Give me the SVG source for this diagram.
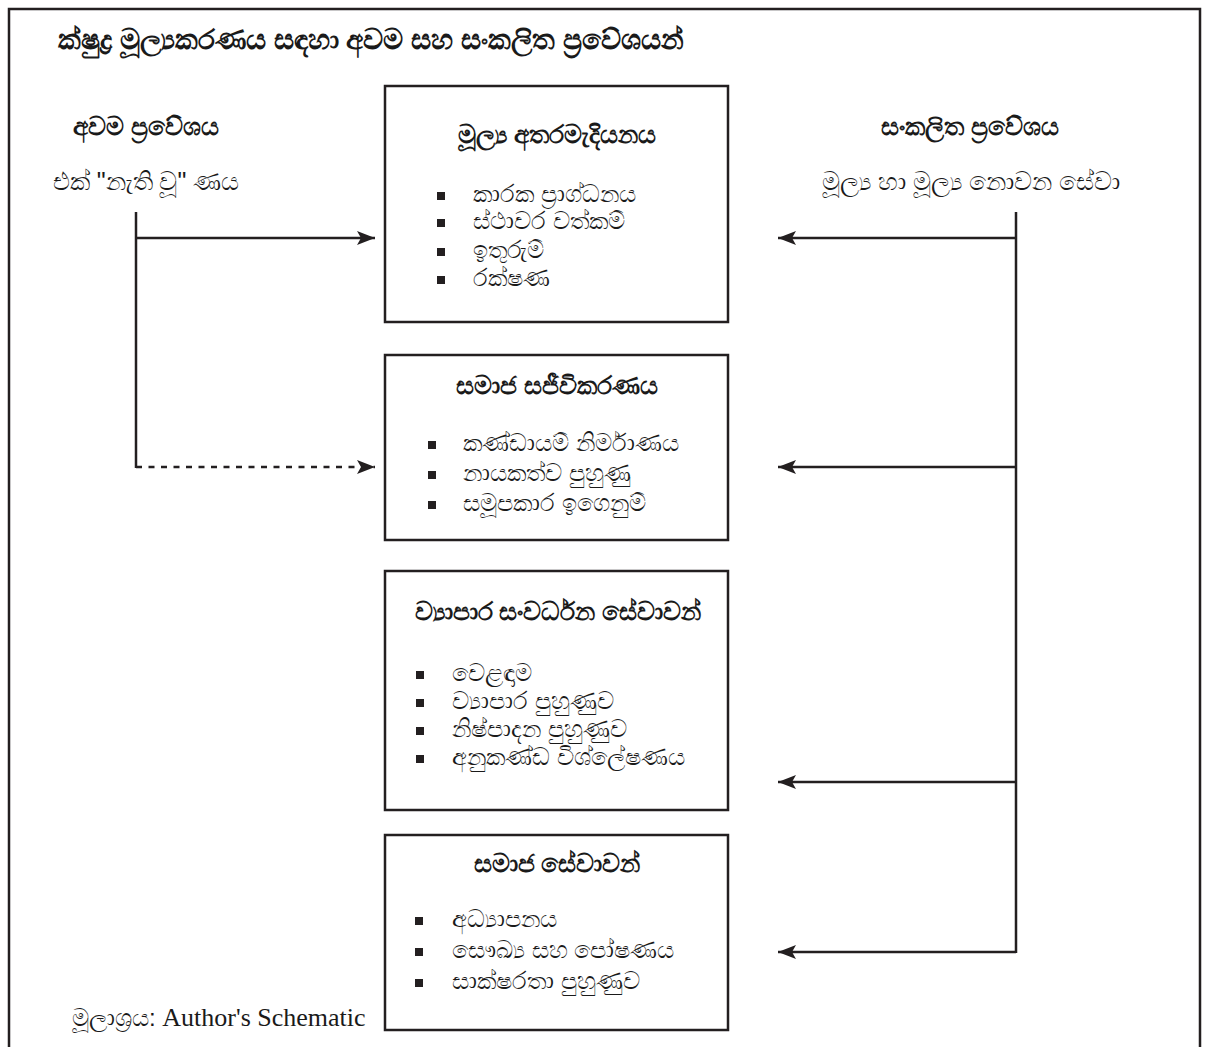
<svg xmlns="http://www.w3.org/2000/svg" width="1211" height="1047" viewBox="0 0 1211 1047">
<defs>
<style>
text{font-family:"Liberation Sans","Noto Sans",sans-serif;fill:#1a1a1a}
.t{font-size:28px;font-weight:bold}
.h{font-size:24.5px;font-weight:bold;text-anchor:middle}
.b{font-size:24px}
.sub{font-size:25px;text-anchor:middle}
.box{fill:#fff;stroke:#231f20;stroke-width:2.5}
.ln{fill:none;stroke:#231f20;stroke-width:2.5}
.bu{fill:#231f20}
</style>
<marker id="ah" viewBox="0 0 18 14" refX="18" refY="7" markerWidth="18" markerHeight="14" markerUnits="userSpaceOnUse" orient="auto">
<path d="M0,0 L18,7 L0,14 L4,7 Z" fill="#231f20"/>
</marker>
</defs>
<rect x="0" y="0" width="1211" height="1047" fill="#fff"/>
<path class="ln" d="M9,1047 V9 H1200 V1047" stroke-width="2"/>
<text class="t" x="58" y="49">ක්ෂුද්‍ර මූල්‍යකරණය සඳහා අවම සහ සංකලිත ප්‍රවේශයන්</text>
<g id="left">
<text class="h" x="146" y="135">අවම ප්‍රවේශය</text>
<text class="sub" x="146" y="190">එක් "නැති වූ" ණය</text>
</g>
<g id="right">
<text class="h" x="970" y="135">සංකලිත ප්‍රවේශය</text>
<text class="sub" x="971" y="190">මූල්‍ය හා මූල්‍ය නොවන සේවා</text>
</g>
<g id="box1">
<rect class="box" x="385" y="86" width="343" height="236"/>
<text class="h" x="557" y="143">මූල්‍ය අතරමැදියනය</text>
<rect class="bu" x="437" y="192" width="8" height="8"/>
<rect class="bu" x="437" y="219" width="8" height="8"/>
<rect class="bu" x="437" y="248" width="8" height="8"/>
<rect class="bu" x="437" y="276" width="8" height="8"/>
<text class="b" x="473" y="202">කාරක ප්‍රාග්ධනය</text>
<text class="b" x="473" y="229">ස්ථාවර වත්කම්</text>
<text class="b" x="473" y="258">ඉතුරුම්</text>
<text class="b" x="473" y="286">රක්ෂණ</text>
</g>
<g id="box2">
<rect class="box" x="385" y="355" width="343" height="185"/>
<text class="h" x="557" y="394">සමාජ සජීවිකරණය</text>
<rect class="bu" x="428" y="441" width="8" height="8"/>
<rect class="bu" x="428" y="471" width="8" height="8"/>
<rect class="bu" x="428" y="501" width="8" height="8"/>
<text class="b" x="463" y="451">කණ්ඩායම් නිර්මාණය</text>
<text class="b" x="463" y="481">නායකත්ව පුහුණු</text>
<text class="b" x="463" y="511">සමූපකාර ඉගෙනුම්</text>
</g>
<g id="box3">
<rect class="box" x="385" y="571" width="343" height="239"/>
<text class="h" x="558" y="620">ව්‍යාපාර සංවර්ධන සේවාවන්</text>
<rect class="bu" x="416" y="671" width="8" height="8"/>
<rect class="bu" x="416" y="699" width="8" height="8"/>
<rect class="bu" x="416" y="727" width="8" height="8"/>
<rect class="bu" x="416" y="755" width="8" height="8"/>
<text class="b" x="452" y="681">වෙළඳාම</text>
<text class="b" x="452" y="709">ව්‍යාපාර පුහුණුව</text>
<text class="b" x="452" y="737">නිෂ්පාදන පුහුණුව</text>
<text class="b" x="452" y="765">අනුකණ්ඩ විශ්ලේෂණය</text>
</g>
<g id="box4">
<rect class="box" x="385" y="835" width="343" height="195"/>
<text class="h" x="557" y="872">සමාජ සේවාවන්</text>
<rect class="bu" x="415" y="917" width="8" height="8"/>
<rect class="bu" x="415" y="948" width="8" height="8"/>
<rect class="bu" x="415" y="979" width="8" height="8"/>
<text class="b" x="452" y="927">අධ්‍යාපනය</text>
<text class="b" x="452" y="958">සෞඛ්‍ය සහ පෝෂණය</text>
<text class="b" x="452" y="989">සාක්ෂරතා පුහුණුව</text>
</g>
<g id="connectors">
<path class="ln" d="M136,212 V468"/>
<path class="ln" d="M136,238 H375" marker-end="url(#ah)"/>
<path class="ln" d="M136,467 H375" stroke-dasharray="6,6.5" marker-end="url(#ah)"/>
<path class="ln" d="M1016,212 V953"/>
<path class="ln" d="M1016,238 H778" marker-end="url(#ah)"/>
<path class="ln" d="M1016,467 H778" marker-end="url(#ah)"/>
<path class="ln" d="M1016,782 H778" marker-end="url(#ah)"/>
<path class="ln" d="M1016,952 H778" marker-end="url(#ah)"/>
</g>
<text x="72" y="1026" style="font-size:24px"><tspan>මූලාශ්‍රය: </tspan><tspan style="font-family:'Liberation Serif',serif;font-size:26px">Author's Schematic</tspan></text>
</svg>
